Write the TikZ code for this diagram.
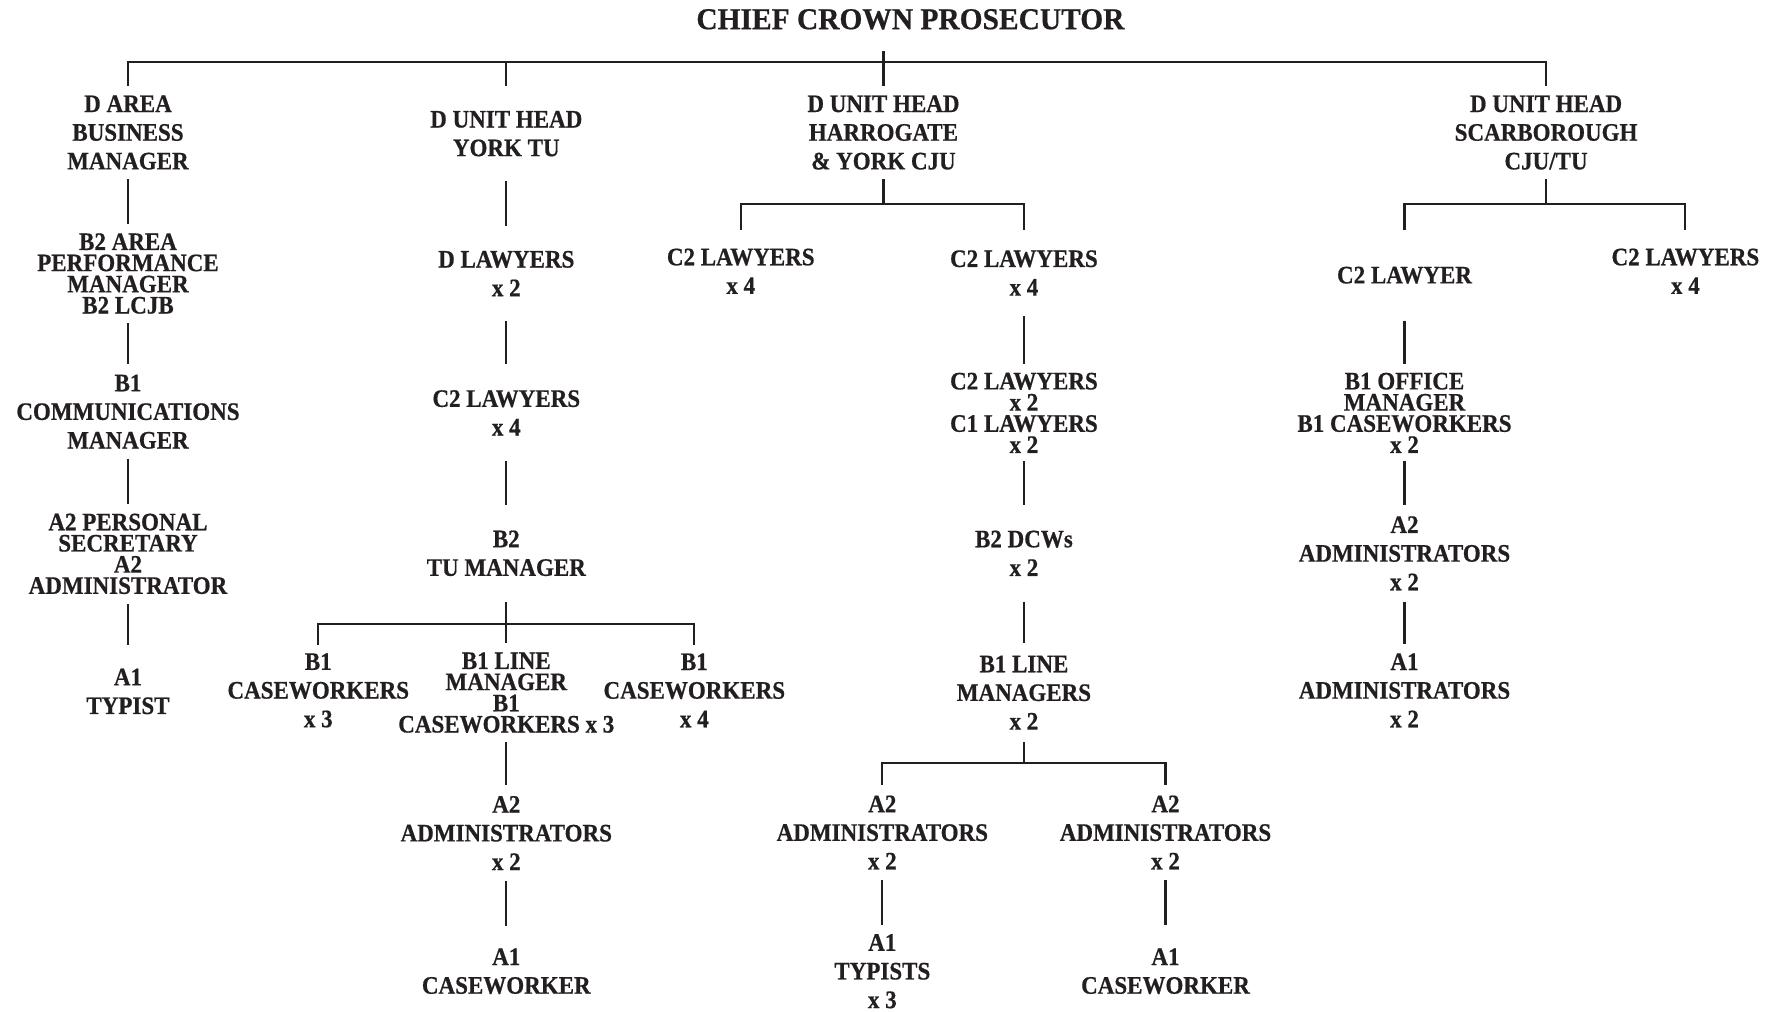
\documentclass[tikz,border=0pt]{standalone}
\usepackage{fontspec}
\setmainfont{Liberation Serif}
\newfontfamily\bodyfont[FakeStretch=0.915, BoldFeatures={FakeBold=0.6}]{Liberation Serif}
\newfontfamily\titlefont[FakeStretch=0.97, BoldFeatures={FakeBold=0.6}]{Liberation Serif}
\definecolor{ink}{HTML}{231F20}
\begin{document}
\begin{tikzpicture}[x=1pt,y=-1pt,
  lbl/.style={inner sep=0pt, align=center, text=ink, font=\bodyfont\bfseries\fontsize{22.2}{25.3}\selectfont},
  tight/.style={font=\bodyfont\bfseries\fontsize{22.2}{18.7}\selectfont},
  conn/.style={draw=ink, line width=1.8pt}
]
\fill[white] (0,0) rectangle (1568,893);
\useasboundingbox (0,0) rectangle (1568,893);

\node[lbl, font=\titlefont\bfseries\fontsize{26.8}{30}\selectfont, inner ysep=19pt] (chief) at (803.8,17.1) {CHIEF CROWN PROSECUTOR};
\coordinate (bar) at (780,55);

% column 1
\node[lbl, minimum height=82pt] (a1) at (113,117) {D AREA\\BUSINESS\\MANAGER};
\node[lbl, tight, minimum height=87pt] (a2) at (113,241.5) {B2 AREA\\PERFORMANCE\\MANAGER\\B2 LCJB};
\node[lbl, minimum height=83pt] (a3) at (113,363.5) {B1\\COMMUNICATIONS\\MANAGER};
\node[lbl, tight, minimum height=88pt] (a4) at (113,489) {A2 PERSONAL\\SECRETARY\\A2\\ADMINISTRATOR};
\node[lbl, minimum height=81pt] (a5) at (113,610.5) {A1\\TYPIST};

% column 2
\node[lbl, minimum height=84pt] (b1) at (447,118) {D UNIT HEAD\\YORK TU};
\node[lbl, minimum height=83pt] (b2) at (447,241.5) {D LAWYERS\\x 2};
\node[lbl, minimum height=85pt] (b3) at (447,364.5) {C2 LAWYERS\\x 4};
\node[lbl, minimum height=85pt] (b4) at (447,488.5) {B2\\TU MANAGER};
\coordinate (bj) at (447,551);
\node[lbl, minimum height=79pt] (b5a) at (281,609.5) {B1\\CASEWORKERS\\x 3};
\node[lbl, tight, minimum height=87pt] (b5b) at (447,611.5) {B1 LINE\\MANAGER\\B1\\CASEWORKERS x 3};
\node[lbl, minimum height=79pt] (b5c) at (613,609.5) {B1\\CASEWORKERS\\x 4};
\node[lbl, minimum height=85pt] (b6) at (447,735.5) {A2\\ADMINISTRATORS\\x 2};
\node[lbl, minimum height=79pt] (b7) at (447,857.5) {A1\\CASEWORKER};

% column 3
\node[lbl, minimum height=82pt] (c1) at (780,117) {D UNIT HEAD\\HARROGATE\\\& YORK CJU};
\coordinate (cj) at (780,180);
\node[lbl, minimum height=73pt] (c2a) at (654,239.5) {C2 LAWYERS\\x 4};
\node[lbl, minimum height=76pt] (c2b) at (904,241) {C2 LAWYERS\\x 4};
\node[lbl, tight, minimum height=85pt] (c3) at (904,364.5) {C2 LAWYERS\\x 2\\C1 LAWYERS\\x 2};
\node[lbl, minimum height=85pt] (c4) at (904,488.5) {B2 DCWs\\x 2};
\node[lbl, minimum height=87pt] (c5) at (904,611.5) {B1 LINE\\MANAGERS\\x 2};
\coordinate (cj2) at (904,674);
\node[lbl, minimum height=84pt] (c6a) at (779,735) {A2\\ADMINISTRATORS\\x 2};
\node[lbl, minimum height=84pt] (c6b) at (1029,735) {A2\\ADMINISTRATORS\\x 2};
\node[lbl, minimum height=81pt] (c7a) at (779,857.5) {A1\\TYPISTS\\x 3};
\node[lbl, minimum height=81pt] (c7b) at (1029,857.5) {A1\\CASEWORKER};

% column 4
\node[lbl, minimum height=82pt] (d1) at (1365,117) {D UNIT HEAD\\SCARBOROUGH\\CJU/TU};
\coordinate (dj) at (1365,180);
\node[lbl, minimum height=80pt] (d2a) at (1240,243) {C2 LAWYER};
\node[lbl, minimum height=73pt] (d2b) at (1488,239.5) {C2 LAWYERS\\x 4};
\node[lbl, tight, minimum height=85pt] (d3) at (1240,364.5) {B1 OFFICE\\MANAGER\\B1 CASEWORKERS\\x 2};
\node[lbl, minimum height=85pt] (d4) at (1240,488.5) {A2\\ADMINISTRATORS\\x 2};
\node[lbl, minimum height=82pt] (d5) at (1240,609.5) {A1\\ADMINISTRATORS\\x 2};

% connectors
\draw[conn] (chief.south -| c1.north) -- (c1.north);
\draw[conn] (a1.north) |- (bar) -| (d1.north);
\draw[conn] (b1.north) -- (b1.north |- bar);

\draw[conn] (a1.south) -- (a2.north);
\draw[conn] (a2.south) -- (a3.north);
\draw[conn] (a3.south) -- (a4.north);
\draw[conn] (a4.south) -- (a5.north);

\draw[conn] (b1.south) -- (b2.north);
\draw[conn] (b2.south) -- (b3.north);
\draw[conn] (b3.south) -- (b4.north);
\draw[conn] (b4.south) -- (b5b.north);
\draw[conn] (b5a.north) |- (bj) -| (b5c.north);
\draw[conn] (b5b.south) -- (b6.north);
\draw[conn] (b6.south) -- (b7.north);

\draw[conn] (c1.south) -- (cj);
\draw[conn] (c2a.north) |- (cj) -| (c2b.north);
\draw[conn] (c2b.south) -- (c3.north);
\draw[conn] (c3.south) -- (c4.north);
\draw[conn] (c4.south) -- (c5.north);
\draw[conn] (c5.south) -- (cj2);
\draw[conn] (c6a.north) |- (cj2) -| (c6b.north);
\draw[conn] (c6a.south) -- (c7a.north);
\draw[conn] (c6b.south) -- (c7b.north);

\draw[conn] (d1.south) -- (dj);
\draw[conn] (d2a.north) |- (dj) -| (d2b.north);
\draw[conn] (d2a.south) -- (d3.north);
\draw[conn] (d3.south) -- (d4.north);
\draw[conn] (d4.south) -- (d5.north);
\end{tikzpicture}
\end{document}
